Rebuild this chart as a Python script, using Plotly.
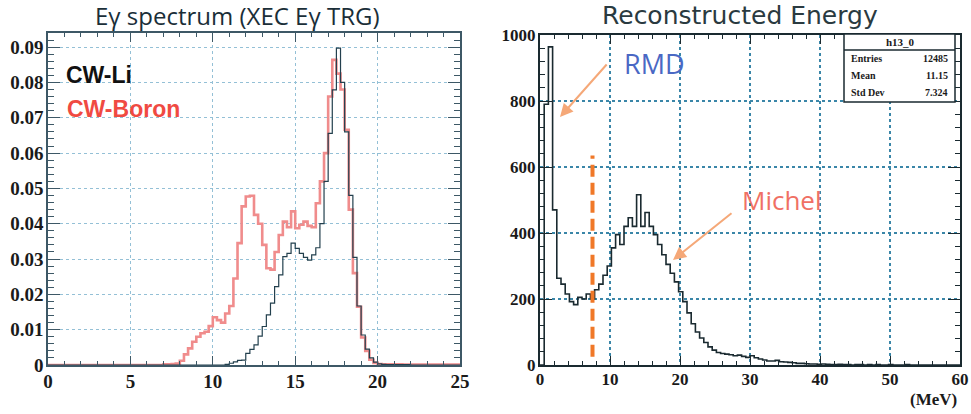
import numpy as np
import plotly.graph_objects as go

# ---------------- data ----------------
# Left panel: E-gamma spectrum, 100 bins of 0.25 MeV from 0 to 25
LEFT_BIN_WIDTH = 0.25
li_values = (
    [0.0] * 43 +
    [0.0002, 0.0005, 0.0009, 0.0013, 0.0014,            # 10.75 - 12.0
     0.0033, 0.0044, 0.0057, 0.0082, 0.0109,            # 12.0 - 13.25
     0.0142, 0.0175, 0.0222, 0.0255, 0.0307,            # 13.25 - 14.5
     0.0316, 0.0345, 0.0330, 0.0316, 0.0305,            # 14.5 - 15.75
     0.0297, 0.0312, 0.0332, 0.0400, 0.0520,            # 15.75 - 17.0
     0.0656, 0.0779, 0.0897, 0.0800, 0.0660,            # 17.0 - 18.25
     0.0480, 0.0305, 0.0167, 0.0085, 0.0045,            # 18.25 - 19.5
     0.0020, 0.0008, 0.0003, 0.0002] +                  # 19.5 - 20.5
    [0.0001] * 6 + [0.0] * 12
)
boron_values = (
    [0.0] * 28 +
    [0.0002, 0.0002, 0.0003, 0.0004,                    # 7.0 - 8.0
     0.0012, 0.0030, 0.0047, 0.0066, 0.0080,            # 8.0 - 9.25
     0.0090, 0.0094, 0.0110, 0.0135, 0.0127,            # 9.25 - 10.5
     0.0120, 0.0146, 0.0167, 0.0245, 0.0345,            # 10.5 - 11.75
     0.0449, 0.0477, 0.0479, 0.0425, 0.0400,            # 11.75 - 13.0
     0.0340, 0.0274, 0.0270, 0.0320, 0.0368,            # 13.0 - 14.25
     0.0406, 0.0390, 0.0435, 0.0387, 0.0397,            # 14.25 - 15.5
     0.0406, 0.0394, 0.0390, 0.0458, 0.0520,            # 15.5 - 16.75
     0.0600, 0.0760, 0.0864, 0.0825, 0.0780,            # 16.75 - 18.0
     0.0666, 0.0440, 0.0260, 0.0165, 0.0078,            # 18.0 - 19.25
     0.0040, 0.0015, 0.0006, 0.0003, 0.0002] +          # 19.25 - 20.5
    [0.0002] * 4 + [0.0001] * 14
)

# Right panel: reconstructed energy, 100 bins of 0.6 MeV from 0 to 60
RIGHT_BIN_WIDTH = 0.6
reco_counts = [
    0, 790, 964, 470, 263, 245, 215, 192, 183, 205,
    200, 215, 200, 228, 245, 272, 300, 355, 395, 365,
    420, 446, 420, 516, 420, 462, 420, 395, 365, 334,
    305, 278, 252, 222, 192, 158, 125, 100, 82, 68,
    55, 45, 38, 35, 33, 31, 28, 30, 26, 23,
    28, 22, 18, 15, 12, 12, 14, 10, 9, 8,
    7, 5, 5, 4, 3, 3, 2, 3, 2, 1,
    1, 2, 1, 1, 0, 1, 1, 0, 1, 0,
    1, 0, 0, 1, 0, 0, 0, 1, 0, 0,
    0, 0, 0, 0, 0, 0, 0, 0, 0, 0,
]
CUT_MEV = 7.5
CUT_LINE_RANGE = [25, 635]

stats_labels = ["Entries", "Mean", "Std Dev"]
stats_values = ["12485", "11.15", "7.324"]
stats_name = "h13_0"

left_title = "Eγ spectrum (XEC Eγ TRG)"
right_title = "Reconstructed Energy"

# ---------------- helpers ----------------
W, H = 971, 414


def px(x):
    return x / W


def py(y):
    return 1 - y / H


def step_xy(values, width):
    n = len(values)
    edges = list(np.arange(n + 1) * width)
    xs = [edges[0]] + edges
    ys = [0] + list(values) + [values[-1]]
    return xs, ys


SERIF_BOLD = dict(family="Liberation Serif", size=18, color="#1a1a1a", weight="bold")

fig = go.Figure()

lx, ly = step_xy(boron_values, LEFT_BIN_WIDTH)
fig.add_trace(go.Scatter(x=lx, y=ly, mode="lines", line=dict(shape="hv", color="#f08c8c", width=2.6),
                         xaxis="x", yaxis="y", showlegend=False, hoverinfo="skip"))
lx, ly = step_xy(li_values, LEFT_BIN_WIDTH)
fig.add_trace(go.Scatter(x=lx, y=ly, mode="lines", line=dict(shape="hv", color="#23404e", width=1.2),
                         xaxis="x", yaxis="y", showlegend=False, hoverinfo="skip"))
rx, ry = step_xy(reco_counts, RIGHT_BIN_WIDTH)
fig.add_trace(go.Scatter(x=rx, y=ry, mode="lines", line=dict(shape="hv", color="#1a2a30", width=1.6),
                         xaxis="x2", yaxis="y2", showlegend=False, hoverinfo="skip"))


def axis(rng, dtick, minor_dtick, domain, anchor, frame_color, frame_w, grid_color, grid_w,
         ticklen, minor_len, font_size, standoff=0):
    return dict(
        range=rng, domain=domain, anchor=anchor, dtick=dtick, tick0=0,
        ticks="inside", ticklen=ticklen, tickwidth=1.3, tickcolor=frame_color,
        minor=dict(dtick=minor_dtick, tick0=0, ticks="inside", ticklen=minor_len,
                   tickwidth=1.1, tickcolor=frame_color, showgrid=False),
        showline=True, linecolor=frame_color, linewidth=frame_w, mirror="allticks",
        showgrid=True, gridcolor=grid_color, gridwidth=grid_w, griddash="dot",
        zeroline=False, tickfont=dict(SERIF_BOLD, size=font_size), fixedrange=True,
        automargin=False, ticklabelstandoff=standoff,
    )


left_frame = "#3d5866"
right_frame = "#1a2a30"

fig.update_layout(
    width=W, height=H, margin=dict(l=0, r=0, t=0, b=0),
    paper_bgcolor="white", plot_bgcolor="white",
    xaxis=axis([0, 25], 5, 1, [px(48), px(460)], "y", left_frame, 1.5, "#94c0d6", 1, 9, 4, 19, -2),
    yaxis=axis([0, 0.094], 0.01, 0.002, [py(365), py(33)], "x", left_frame, 1.5, "#94c0d6", 1, 12, 6, 19, -1),
    xaxis2=axis([0, 60], 10, 2, [px(540), px(960)], "y2", right_frame, 2, "#3a86a8", 1.6, 9, 4, 17, -2),
    yaxis2=axis([0, 1000], 200, 40, [py(365), py(35)], "x2", right_frame, 2, "#3a86a8", 1.6, 12, 5, 17, -1),
)

shapes = [
    dict(type="line", xref="x2", yref="y2", x0=CUT_MEV, x1=CUT_MEV,
         y0=CUT_LINE_RANGE[0], y1=CUT_LINE_RANGE[1],
         line=dict(color="#f07828", width=4, dash="12px,6px")),
    # stats box
    dict(type="rect", xref="paper", yref="paper", x0=px(844), x1=px(955), y0=py(102), y1=py(34),
         line=dict(color=right_frame, width=1.5), fillcolor="white", layer="above"),
    dict(type="line", xref="paper", yref="paper", x0=px(844), x1=px(955), y0=py(50), y1=py(50),
         line=dict(color=right_frame, width=1.3), layer="above"),
]
fig.update_layout(shapes=shapes)

ann = []
ann.append(dict(text=left_title, x=px(237), y=py(16), xref="paper", yref="paper", showarrow=False,
                xanchor="center", yanchor="middle",
                font=dict(family="Open Sans", size=24, color="#1a2e38")))
ann.append(dict(text=right_title, x=px(740), y=py(15), xref="paper", yref="paper", showarrow=False,
                xanchor="center", yanchor="middle",
                font=dict(family="DejaVu Sans", size=25, color="#2a3a40")))
ann.append(dict(text="<b>CW-Li</b>", x=px(64), y=py(75), xref="paper", yref="paper", showarrow=False,
                xanchor="left", yanchor="middle",
                font=dict(family="Liberation Sans", size=23, color="#111111")))
ann.append(dict(text="<b>CW-Boron</b>", x=px(65), y=py(109), xref="paper", yref="paper", showarrow=False,
                xanchor="left", yanchor="middle",
                font=dict(family="Liberation Sans", size=23, color="#f04a42")))
ann.append(dict(text="RMD", x=px(654), y=py(63), xref="paper", yref="paper", showarrow=False,
                xanchor="center", yanchor="middle",
                font=dict(family="Open Sans", size=27, color="#4a68c4")))
ann.append(dict(text="Michel", x=px(782), y=py(200), xref="paper", yref="paper", showarrow=False,
                xanchor="center", yanchor="middle",
                font=dict(family="Open Sans", size=26, color="#f07064")))
ann.append(dict(text="", x=px(560), y=py(117), xref="paper", yref="paper", showarrow=True,
                ax=48, ay=-54, arrowcolor="#f5a878", arrowwidth=2, arrowhead=2, arrowsize=1.3))
ann.append(dict(text="", x=px(673), y=py(260), xref="paper", yref="paper", showarrow=True,
                ax=60, ay=-48, arrowcolor="#f5a878", arrowwidth=2, arrowhead=2, arrowsize=1.3))
ann.append(dict(text="(MeV)", x=px(959), y=py(399), xref="paper", yref="paper", showarrow=False,
                xanchor="right", yanchor="middle", font=dict(SERIF_BOLD, size=17)))
# stats box text
ann.append(dict(text=stats_name, x=px(900), y=py(42), xref="paper", yref="paper", showarrow=False,
                xanchor="center", yanchor="middle", font=dict(SERIF_BOLD, size=11)))
for i, (lab, val) in enumerate(zip(stats_labels, stats_values)):
    yy = 59 + i * 16.5
    ann.append(dict(text=lab, x=px(849), y=py(yy), xref="paper", yref="paper", showarrow=False,
                    xanchor="left", yanchor="middle", font=dict(SERIF_BOLD, size=10)))
    ann.append(dict(text=val, x=px(950), y=py(yy), xref="paper", yref="paper", showarrow=False,
                    xanchor="right", yanchor="middle", font=dict(SERIF_BOLD, size=10)))
fig.update_layout(annotations=ann)

fig.write_html(
    "out.html",
    config={"displayModeBar": False},
    post_script="document.body.style.margin='0';document.body.style.overflow='hidden';",
)
